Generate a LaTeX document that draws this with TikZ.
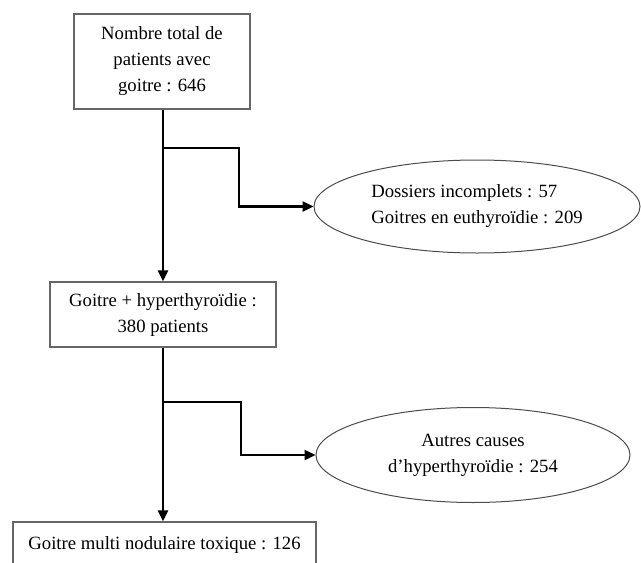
\documentclass[tikz,border=0pt]{standalone}
\usepackage{fontspec}
\setmainfont{Liberation Serif}
\usetikzlibrary{shapes.geometric,arrows.meta}
\begin{document}
\begin{tikzpicture}[x=1pt,y=-1pt,
  txt/.style={font=\fontsize{18.7}{26}\selectfont},
  boxnode/.style={txt,draw=black!60,line width=1.3pt,align=center,inner sep=0pt},
  ellnode/.style={txt,ellipse,draw=black!70,line width=1pt,inner sep=0pt},
  arr/.style={line width=2.4pt,-{Triangle[length=11pt,width=10pt]}},
  lin/.style={line width=2.4pt}]
\useasboundingbox (0,0) rectangle (641,563);
\node[boxnode,minimum width=176pt,minimum height=95pt] (b1) at (162,61.5)
  {Nombre total de\\patients avec\\goitre : 646};
\node[boxnode,minimum width=226pt,minimum height=65pt] (b2) at (163,314.5)
  {Goitre + hyperthyroïdie :\\380 patients};
\node[boxnode,minimum width=303pt,minimum height=46pt] (b3) at (164.5,545)
  {Goitre multi nodulaire toxique : 126};
\node[ellnode,minimum width=326pt,minimum height=93pt,align=left] (e1) at (477,206.5)
  {Dossiers incomplets : 57\\Goitres en euthyroïdie : 209};
\node[ellnode,minimum width=314pt,minimum height=95pt,align=center] (e2) at (473,455)
  {Autres causes\\d’hyperthyroïdie : 254};
\coordinate (j1) at (163,148);
\coordinate (k1) at (239,148);
\coordinate (j2) at (163,402);
\coordinate (k2) at (241,402);
\draw[arr] (b1.south -| j1) -- (b2.north -| j1);
\draw[arr] (j1) -- (k1) |- (e1.west);
\draw[arr] (b2.south -| j2) -- (b3.north -| j2);
\draw[arr] (j2) -- (k2) |- (e2.west);
\end{tikzpicture}
\end{document}
